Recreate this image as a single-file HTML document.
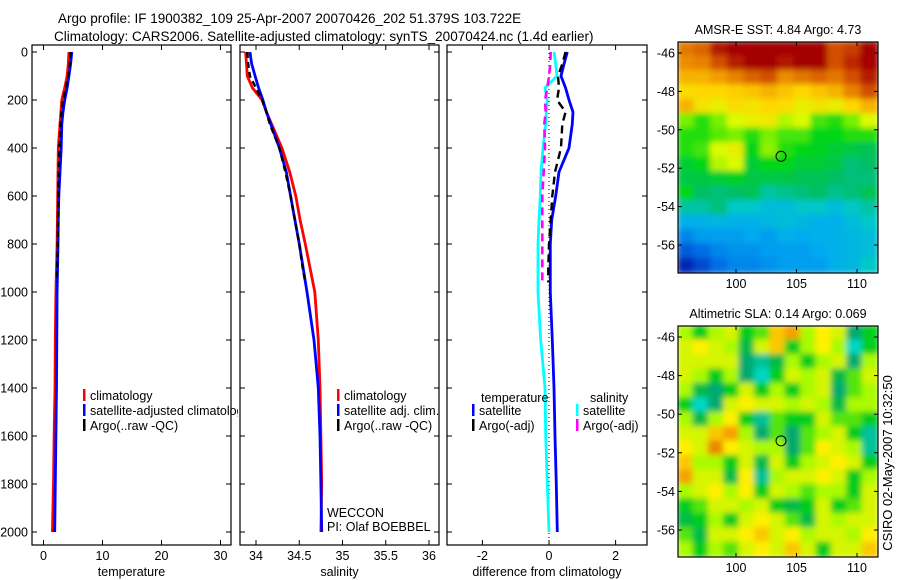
<!DOCTYPE html>
<html><head><meta charset="utf-8"><style>
html,body{margin:0;padding:0;background:#fff;}
svg{display:block;font-family:"Liberation Sans",sans-serif;}
</style></head><body>
<svg id="fig" width="900" height="580" viewBox="0 0 900 580" xmlns="http://www.w3.org/2000/svg">
<defs>
<clipPath id="c1"><rect x="32" y="45" width="206" height="501"/></clipPath>
<clipPath id="c2"><rect x="240" y="45" width="199" height="501"/></clipPath>
<clipPath id="c3"><rect x="447" y="45" width="200" height="501"/></clipPath>
<clipPath id="cm1"><rect x="678" y="42" width="200" height="231"/></clipPath>
<clipPath id="cm2"><rect x="678" y="326" width="200" height="231"/></clipPath>
<filter id="blur" x="-5%" y="-5%" width="110%" height="110%"><feGaussianBlur stdDeviation="3"/></filter>
</defs>
<text x="58" y="23" font-size="13.5">Argo profile: IF 1900382_109 25-Apr-2007 20070426_202 51.379S 103.722E</text>
<text x="54" y="41" font-size="13.5">Climatology: CARS2006. Satellite-adjusted climatology: synTS_20070424.nc (1.4d earlier)</text>
<g id="g1"></g>
<g id="g2"></g>
<g id="g3"></g>
<g id="m1"></g>
<g id="m2"></g>
<text transform="translate(892,463) rotate(-90)" text-anchor="middle" font-size="13">CSIRO 02-May-2007 10:32:50</text>
</svg>
<script>
// ---------- profile data ----------
const depthTicks = [0,200,400,600,800,1000,1200,1400,1600,1800,2000];
const climDepth = [0,50,100,150,200,250,300,400,500,600,700,800,1000,1200,1400,1600,1800,2000];
const tempClim = [4.3,4.2,4.0,3.6,3.1,2.95,2.8,2.5,2.45,2.4,2.35,2.3,2.1,2.0,1.95,1.8,1.7,1.5];
const tempSat  = [4.8,4.6,4.3,4.0,3.6,3.3,3.1,3.0,2.8,2.6,2.5,2.45,2.3,2.25,2.2,2.1,2.0,1.9];
const salClim = [33.88,33.89,33.9,33.96,34.07,34.12,34.18,34.3,34.39,34.46,34.51,34.57,34.68,34.72,34.74,34.75,34.76,34.75];
const salSat  = [33.93,33.95,33.99,34.03,34.08,34.12,34.17,34.27,34.35,34.4,34.45,34.5,34.59,34.67,34.72,34.74,34.75,34.76];
const argoDepth = [0,50,100,150,200,250,300,400,500,600,700,800,900,960];
const tempArgo = [4.6,4.45,4.2,3.8,3.3,3.05,2.9,2.7,2.6,2.5,2.45,2.4,2.3,2.25];
const salArgo  = [33.9,33.91,33.93,34.0,34.07,34.12,34.16,34.27,34.34,34.4,34.45,34.5,34.54,34.57];
const diffTSat = [0.55,0.45,0.36,0.5,0.6,0.72,0.7,0.6,0.3,0.2,0.08,0.04,0.04,0.1,0.15,0.18,0.22,0.25];
const diffSSat = [0.15,0.2,0.24,-0.12,-0.05,-0.08,-0.1,-0.18,-0.24,-0.26,-0.3,-0.33,-0.33,-0.25,-0.12,-0.1,-0.05,0];
const diffTArgo = [0.5,0.4,0.27,0.3,0.24,0.5,0.4,0.36,0.18,0.1,0.05,0.0,-0.02,-0.02];
const diffSArgo = [0.05,0.04,0.0,-0.05,-0.12,-0.1,-0.14,-0.12,-0.16,-0.2,-0.2,-0.2,-0.2,-0.2];
const tempTicks = [0,10,20,30];
const salTicks = [34,34.5,35,35.5,36];
const diffTicks = [-2,0,2];

// ---------- map data ----------
const mapLatTicks = [-46,-48,-50,-52,-54,-56];
const mapLonTicks = [100,105,110];
const sstGrid = [
[7.6,7.8,8.6,9,9,9,9,9,9,8,8.2,9],
[7.4,7.5,8,8.5,8.8,9,8.6,8.8,8.8,8,8.4,9],
[7,7,7.2,7.5,7.8,8,7.4,7.6,7.8,7.6,8,8.5],
[6.5,6.6,6.6,6.7,6.8,7,6.8,6.6,6.8,7,7.5,8],
[7,6.4,6.2,6.5,6.4,6.6,6.5,6.2,6.4,6.2,6.6,7],
[5.5,5,5.5,6,6.2,6.3,5.8,6,5.2,5,5.5,6],
[5,5,5.3,5.5,5,5.5,5.2,5.2,4.8,4.8,5,5],
[5,5.2,6,6.2,4.8,5.6,5,4.8,4.7,4.6,4.5,4.4],
[4.6,4.8,5.8,6,4.6,4.8,4.8,4.6,4.6,4.5,4.2,4.3],
[4.5,4.5,4.6,4.7,4.5,4.5,4.5,4.4,4.4,4.3,4.2,4.2],
[4.8,4.3,4.2,4.3,4.4,4,4.1,4.2,4.3,4.1,4.2,4.4],
[4,4,4.2,3.8,3.8,3.6,3.6,3.8,3.8,3.6,3.8,4],
[3.4,3.4,3.5,3.4,3.4,3.5,3.6,3.5,3.4,3.4,3.6,3.8],
[3,3.2,3.2,3.2,3.3,3.2,3.4,3.3,3.4,3.4,3.5,3.6],
[2.6,2.8,3,3.1,3.1,3.2,3.2,3.2,3.3,3.4,3.5,3.6],
[2,2.4,2.8,3,3,3.1,3.2,3.2,3.2,3.4,3.5,3.8]];
const slaGrid = [
[0,-0.1,0,0.05,-0.1,-0.05,0.15,0.2,0,0.1,0.05,-0.2,-0.1],
[0.05,0.1,0.05,0,-0.15,0.05,0.15,-0.1,0,0.1,0,-0.3,-0.1],
[0.05,0.05,0.05,0.05,-0.2,-0.25,-0.15,0,-0.1,0,0.05,-0.2,0],
[0.05,0,-0.1,0,-0.2,-0.3,-0.1,0.05,0,0.05,-0.15,-0.05,0.05],
[0,-0.15,-0.2,-0.1,0.05,-0.1,0,-0.1,0,0.05,-0.2,-0.05,0],
[-0.1,-0.3,-0.2,0.05,0.1,0.05,0.05,0,0.05,0,-0.15,0,0],
[0,-0.15,0,0.1,-0.1,-0.25,-0.05,-0.1,-0.1,0.05,-0.05,-0.05,-0.1],
[0.05,0.05,0.15,0.2,0,-0.2,-0.05,-0.2,-0.05,0,0.05,-0.1,-0.25],
[0.1,0.05,0.25,0.1,0.05,0,0,-0.2,-0.05,0.1,0.05,0,-0.25],
[0.15,0,0,-0.1,0.05,-0.15,0.05,-0.1,0,0.05,0.1,0.05,-0.1],
[0.2,0.05,0.05,-0.15,0.1,-0.25,0,0.05,0.05,0.1,0.05,-0.1,0],
[0,0.05,0.1,0,0.1,-0.1,0.05,0,-0.05,0,0,-0.1,0.05],
[-0.1,-0.05,0.05,0.05,0,0.05,-0.1,-0.15,-0.1,0.05,-0.1,-0.05,0.05],
[-0.15,-0.1,0,-0.1,0.05,0.1,0.05,-0.05,-0.15,0.05,0,0.05,0.05],
[-0.05,-0.15,0.05,0.05,0.1,0.15,0.05,0.1,0,0.05,0.05,0,0.1],
[0,-0.1,0,-0.05,0.05,0.1,0.05,0.15,0.05,-0.1,0.05,0.05,0.15]];
const argoLon = 103.722, argoLat = -51.379;

const NS='http://www.w3.org/2000/svg';
function mk(parent, tag, attrs){const e=document.createElementNS(NS,tag);for(const k in attrs)e.setAttribute(k,attrs[k]);parent.appendChild(e);return e;}

const yD = d => 52 + d*0.24;
const AX_TOP=45, AX_BOT=545;

function panel(g, x0, x1, xScale, ticks, fmt, title, clip, leftLabels){
  const fr = mk(g,'rect',{x:x0,y:AX_TOP,width:x1-x0,height:AX_BOT-AX_TOP,fill:'none',stroke:'#000','stroke-width':1.2});
  
  
  depthTicks.forEach(d=>{
    const y=yD(d);
    mk(g,'line',{x1:x0,x2:x0+5,y1:y,y2:y,stroke:'#000'});
    mk(g,'line',{x1:x1,x2:x1-5,y1:y,y2:y,stroke:'#000'});
    if(leftLabels){
      const t=mk(g,'text',{x:x0-4,y:y+4.5,'text-anchor':'end','font-size':12.5});
      t.textContent=d;
      
      
    }
  });
  ticks.forEach(v=>{
    const x=xScale(v);
    mk(g,'line',{x1:x,x2:x,y1:AX_BOT,y2:AX_BOT-5,stroke:'#000'});
    mk(g,'line',{x1:x,x2:x,y1:AX_TOP,y2:AX_TOP+5,stroke:'#000'});
    const t=mk(g,'text',{x:x,y:560,'text-anchor':'middle','font-size':12.5});
    t.textContent=fmt(v);
    
    
  });
  const tt=mk(g,'text',{x:(x0+x1)/2,y:576,'text-anchor':'middle','font-size':12.5});
  tt.textContent=title;
  
  
  const inner=mk(g,'g',{'clip-path':'url(#'+clip+')'});
  return inner;
}
function line(g, xs, ds, xScale, color, dash, w, name){
  const pts=xs.map((v,i)=>xScale(v).toFixed(1)+','+yD(ds[i]).toFixed(1)).join(' ');
  const p=mk(g,'polyline',{points:pts,fill:'none',stroke:color,'stroke-width':w||2.8});
  if(dash)p.setAttribute('stroke-dasharray',dash);
  
  
}
function legend(g, x, y, items){
  items.forEach((it,i)=>{
    const yy=y+i*15;
    mk(g,'rect',{x:x,y:yy-9,width:2.5,height:12,fill:it[0]});
    const t=mk(g,'text',{x:x+7,y:yy+2,'font-size':12.5});
    t.textContent=it[1];
    
    
  });
}

const xT = v => 43.5 + v*5.9;
const g1=document.getElementById('g1');
const p1=panel(g1,32,231,xT,tempTicks,v=>v,'temperature','c1',true);
line(p1,tempClim,climDepth,xT,'#ff0000',null,2.8,'temp-climatology-line');
line(p1,tempSat,climDepth,xT,'#0000ff',null,2.8,'temp-satellite-line');
line(p1,tempArgo,argoDepth,xT,'#000',"6,4",2.4,'temp-argo-line');
legend(p1,83,398,[['#ff0000','climatology'],['#0000ff','satellite-adjusted climatology'],['#000','Argo(..raw -QC)']]);

const xS = v => 256 + (v-34)*86.5;
const g2=document.getElementById('g2');
const p2=panel(g2,240,439,xS,salTicks,v=>v,'salinity','c2',false);
line(p2,salClim,climDepth,xS,'#ff0000',null,2.8,'sal-climatology-line');
line(p2,salSat,climDepth,xS,'#0000ff',null,2.8,'sal-satellite-line');
line(p2,salArgo,argoDepth,xS,'#000',"6,4",2.4,'sal-argo-line');
legend(p2,337,398,[['#ff0000','climatology'],['#0000ff','satellite adj. clim.'],['#000','Argo(..raw -QC)']]);
const w1=mk(p2,'text',{x:327,y:517,'font-size':12.5});w1.textContent='WECCON';


const w2=mk(p2,'text',{x:327,y:531,'font-size':12.5});w2.textContent='PI: Olaf BOEBBEL';



const xDf = v => 549 + v*33.3;
const g3=document.getElementById('g3');
const p3=panel(g3,447,647,xDf,diffTicks,v=>v===0?'0':(v<0?'-'+(-v):v),'difference from climatology','c3',false);
mk(p3,'line',{x1:xDf(0),x2:xDf(0),y1:AX_TOP,y2:AX_BOT,stroke:'#000','stroke-dasharray':'1,3'});
line(p3,diffTSat,climDepth,xDf,'#0000ff',null,2.8,'diff-temp-satellite-line');
line(p3,diffSSat,climDepth,xDf,'#00ffff',null,2.8,'diff-sal-satellite-line');
line(p3,diffTArgo,argoDepth,xDf,'#000',"8,5",2.4,'diff-temp-argo-line');
line(p3,diffSArgo,argoDepth,xDf,'#ff00ff',"8,5",2.6,'diff-sal-argo-line');
const lt=mk(p3,'text',{x:481,y:402,'font-size':12.5});lt.textContent='temperature';


const ls=mk(p3,'text',{x:590,y:402,'font-size':12.5});ls.textContent='salinity';


legend(p3,472,413,[['#0000ff','satellite'],['#000','Argo(-adj)']]);
legend(p3,576,413,[['#00ffff','satellite'],['#ff00ff','Argo(-adj)']]);

function interp(stops, v){
  if(v<=stops[0][0])return stops[0][1];
  for(let i=1;i<stops.length;i++){
    if(v<=stops[i][0]){const a=stops[i-1],b=stops[i];const t=(v-a[0])/(b[0]-a[0]);
      return a[1].map((c,k)=>Math.round(c+(b[1][k]-c)*t));}
  }
  return stops[stops.length-1][1];
}
const sstStops=[[2,[0,40,180]],[2.8,[0,110,230]],[3.3,[0,170,240]],[3.8,[0,200,200]],[4.3,[0,190,100]],[4.8,[0,215,20]],[5.5,[120,240,0]],[6,[220,250,0]],[6.6,[255,215,0]],[7.3,[240,150,0]],[8,[210,80,0]],[8.8,[165,0,0]]];
const slaStops=[[-0.3,[0,215,195]],[-0.2,[0,170,110]],[-0.1,[0,205,30]],[0,[170,250,0]],[0.1,[255,240,0]],[0.2,[245,160,0]],[0.3,[225,110,0]]];

function map(gid, top, bot, grid, stops, clip, title, latTop, latSpan, name){
  const g=document.getElementById(gid);
  const L=678,R=878;
  const lonX = lon => 736 + (lon-100)*12.1;
  const latY = lat => latTop + (-46-lat)*latSpan;
  const inner=mk(g,'g',{'clip-path':'url(#'+clip+')'});
  const cells=mk(inner,'g',{filter:'url(#blur)'});
  const rows=grid.length, cols=grid[0].length;
  const cw=(R-L)/cols, ch=(bot-top)/rows;
  grid.forEach((row,r)=>row.forEach((v,c)=>{
    const col=interp(stops,v);
    const cell=mk(cells,'rect',{x:(L+c*cw-1).toFixed(1),y:(top+r*ch-1).toFixed(1),width:(cw+2).toFixed(1),height:(ch+2).toFixed(1),fill:'rgb('+col.join(',')+')'});
    
    
  }));
  const fr=mk(g,'rect',{x:L,y:top,width:R-L,height:bot-top,fill:'none',stroke:'#000','stroke-width':1.2});
  
  
  const circ=mk(g,'circle',{cx:lonX(argoLon),cy:latY(argoLat),r:5,fill:'none',stroke:'#000','stroke-width':1});
  
  
  mapLatTicks.forEach(lat=>{
    const y=latY(lat);
    mk(g,'line',{x1:L,x2:L+4,y1:y,y2:y,stroke:'#000'});
    mk(g,'line',{x1:R,x2:R-4,y1:y,y2:y,stroke:'#000'});
    const t=mk(g,'text',{x:L-3,y:y+4.5,'text-anchor':'end','font-size':12.5});
    t.textContent=lat;
    
    
  });
  mapLonTicks.forEach(lon=>{
    const x=lonX(lon);
    mk(g,'line',{x1:x,x2:x,y1:bot,y2:bot-4,stroke:'#000'});
    mk(g,'line',{x1:x,x2:x,y1:top,y2:top+4,stroke:'#000'});
    const t=mk(g,'text',{x:x,y:bot+15,'text-anchor':'middle','font-size':12.5});
    t.textContent=lon;
    
    
  });
  const tt=mk(g,'text',{x:(L+R)/2,y:top-8,'text-anchor':'middle','font-size':12.5});
  tt.textContent=title;
  
  
}
map('m1',42,273,sstGrid,sstStops,'cm1','AMSR-E SST: 4.84 Argo: 4.73',53,19.2,'sst-map');
map('m2',326,557,slaGrid,slaStops,'cm2','Altimetric SLA: 0.14 Argo: 0.069',337,19.3,'sla-map');
</script>
</body></html>
